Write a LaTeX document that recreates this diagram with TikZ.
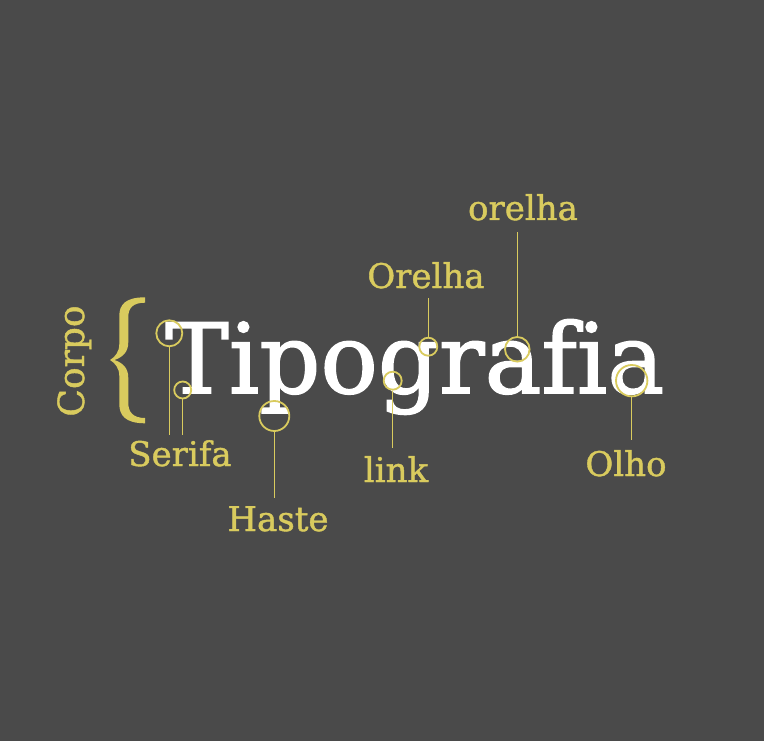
\documentclass[tikz,border=0pt]{standalone}
\usepackage{fontspec}
\setmainfont{DejaVu Serif}
\newfontfamily\titlefont[Ligatures=NoCommon,FakeBold=1.6,FakeStretch=0.984]{DejaVu Serif}
\newfontfamily\lblfont[Ligatures=NoCommon,FakeBold=1.2]{DejaVu Serif}
\definecolor{bg}{HTML}{4A4A4A}
\definecolor{ylw}{HTML}{D9CB5E}
\begin{document}
\begin{tikzpicture}[x=1pt,y=-1pt,
 lbl/.style={text=ylw,font=\lblfont\fontsize{34}{34}\selectfont,inner sep=0pt,anchor=base},
 ring/.style={draw=ylw,line width=1.8pt,circle,inner sep=0pt},
 leader/.style={draw=ylw,line width=1.1pt}]
\fill[bg] (0,0) rectangle (764,741);
\useasboundingbox (0,0) rectangle (764,741);
\node[text=white,font=\titlefont\fontsize{97}{97}\selectfont,anchor=base west,inner sep=0pt] (title) at (165,393) {Tipografia};
% brace
\fill[ylw] (145,297.3) .. controls (125,297.3) and (119.3,305) .. (119.3,316)
  -- (119.3,344) .. controls (119.3,352) and (115,357) .. (110,360)
  .. controls (115,363) and (119.3,368) .. (119.3,376)
  -- (119.3,404) .. controls (119.3,415) and (125,423.3) .. (145,423.3)
  -- (145,418) .. controls (133,418) and (128.3,412) .. (128.3,403)
  -- (128.3,378) .. controls (128.3,368) and (123,363) .. (114.5,360)
  .. controls (123,357) and (128.3,352) .. (128.3,342)
  -- (128.3,317) .. controls (128.3,308) and (133,302.7) .. (145,302.7)
  -- cycle;
\node[lbl,font=\lblfont\fontsize{36}{36}\selectfont,rotate=90] (corpo) at (84,361) {Corpo};
% labels
\node[lbl] (serifa) at (180,466) {Serifa};
\node[lbl] (haste) at (278,531) {Haste};
\node[lbl] (link) at (396,482) {link};
\node[lbl] (olho) at (626,476) {Olho};
\node[lbl] (Orelha) at (426,288) {Orelha};
\node[lbl] (orelha) at (523,220) {orelha};
% rings
\node[ring,minimum size=26pt] (c1) at (169.3,333.3) {};
\node[ring,minimum size=17pt] (c2) at (182.7,390) {};
\node[ring,minimum size=30pt] (c3) at (274.3,416) {};
\node[ring,minimum size=18pt] (c4) at (392.7,380.7) {};
\node[ring,minimum size=18pt] (c5) at (428.3,346.7) {};
\node[ring,minimum size=24.6pt] (c6) at (517.3,349.3) {};
\node[ring,minimum size=31.4pt] (c7) at (631.7,380.7) {};
% leader ends
\coordinate (e1) at (169.3,435);
\coordinate (e2) at (182.7,435);
\coordinate (e3) at (274.3,497.7);
\coordinate (e4) at (392.7,448);
\coordinate (e5) at (428.3,298);
\coordinate (e6) at (517.3,231.7);
\coordinate (e7) at (631.7,440);
\draw[leader] (c1.south) -- (e1);
\draw[leader] (c2.south) -- (e2);
\draw[leader] (c3.south) -- (e3);
\draw[leader] (c4.south) -- (e4);
\draw[leader] (c5.north) -- (e5);
\draw[leader] (c6.north) -- (e6);
\draw[leader] (c7.south) -- (e7);
\end{tikzpicture}
\end{document}
